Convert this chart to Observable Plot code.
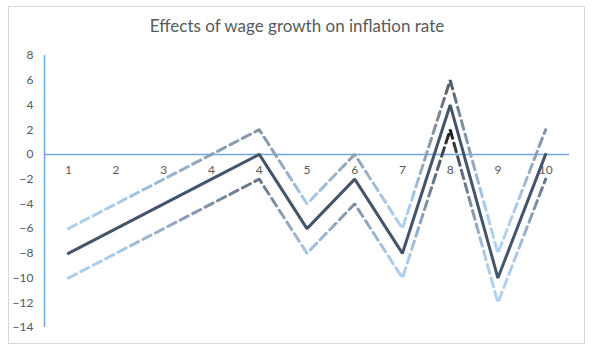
<!DOCTYPE html>
<html>
<head>
<meta charset="utf-8">
<script src="https://cdn.jsdelivr.net/npm/d3@7"></script>
<script src="https://cdn.jsdelivr.net/npm/@observablehq/plot@0.6"></script>
<style>
  html, body { margin: 0; padding: 0; background: #fff; }
  svg { display: block; }
</style>
</head>
<body>
<div id="chart"></div>
<script>
const title = "Effects of wage growth on inflation rate";
const categories = ["1", "2", "3", "4", "4", "5", "6", "7", "8", "9", "10"];
const mainSeries = [-8, -6, -4, -2, 0, -6, -2, -8, 4, -10, 0];
const upperSeries = [-6, -4, -2, 0, 2, -4, 0, -6, 6, -8, 2];
const lowerSeries = [-10, -8, -6, -4, -2, -8, -4, -10, 2, -12, -2];
const yTicks = [8, 6, 4, 2, 0, -2, -4, -6, -8, -10, -12, -14];

const idx = categories.map((_, i) => i);
const rows = (vals) => vals.map((v, i) => ({i, v}));

const font = "Lato, 'Open Sans', sans-serif";
const textColor = "#595959";
const axisBlue = "#6fa8dc";

const plot = Plot.plot({
  width: 593,
  height: 351,
  marginLeft: 44,
  marginRight: 24,
  marginTop: 55,
  marginBottom: 24,
  style: {fontFamily: font, background: "#fff"},
  x: {domain: [-0.5, categories.length - 0.5], axis: null, label: null},
  y: {domain: [-14, 8], axis: null, label: null},
  marks: [
    Plot.axisY(yTicks, {tickSize: 0, tickPadding: 11, fontSize: 12, fill: textColor, label: null}),
    Plot.ruleY([0], {x1: -0.5, x2: categories.length - 0.5, stroke: axisBlue, strokeWidth: 1.5}),
    Plot.ruleX([-0.5], {y1: -14, y2: 8, stroke: axisBlue, strokeWidth: 1.5}),
    Plot.text(idx, {x: d => d, y: 0, text: d => categories[d], dy: 16, fontSize: 12, fill: textColor}),
    Plot.line(rows(upperSeries), {x: "i", y: "v", stroke: "url(#gradUpper)", strokeWidth: 3, strokeDasharray: "9,5", strokeLinejoin: "miter"}),
    Plot.line(rows(lowerSeries), {x: "i", y: "v", stroke: "url(#gradLower)", strokeWidth: 3, strokeDasharray: "9,5", strokeLinejoin: "miter"}),
    Plot.line(rows(mainSeries), {x: "i", y: "v", stroke: "#44546a", strokeWidth: 3, strokeLinejoin: "miter"}),
    Plot.text([title], {frameAnchor: "top", dy: -36, dx: -10, fontSize: 17, fill: textColor, fontFamily: font})
  ]
});

const svg = d3.select(plot);
const defs = svg.insert("defs", ":first-child");
function grad(id, stops) {
  const g = defs.append("linearGradient").attr("id", id)
    .attr("x1", 0).attr("y1", 0).attr("x2", 0).attr("y2", 1);
  stops.forEach(([o, c]) => g.append("stop").attr("offset", o).attr("stop-color", c));
}
grad("gradUpper", [[0, "#4d5560"], [0.2, "#7b8796"], [0.45, "#8fa3b8"], [0.7, "#a9c9e8"], [1, "#b4d4f0"]]);
grad("gradLower", [[0, "#151515"], [0.25, "#5f6e7e"], [0.5, "#8a9db2"], [0.72, "#a9c9e8"], [1, "#b4d4f0"]]);

svg.insert("rect", "defs + *")
  .attr("x", 8.5).attr("y", 6.5).attr("width", 576).attr("height", 337)
  .attr("fill", "none").attr("stroke", "#d9d9d9").attr("stroke-width", 1);

document.getElementById("chart").appendChild(plot);
</script>
</body>
</html>
